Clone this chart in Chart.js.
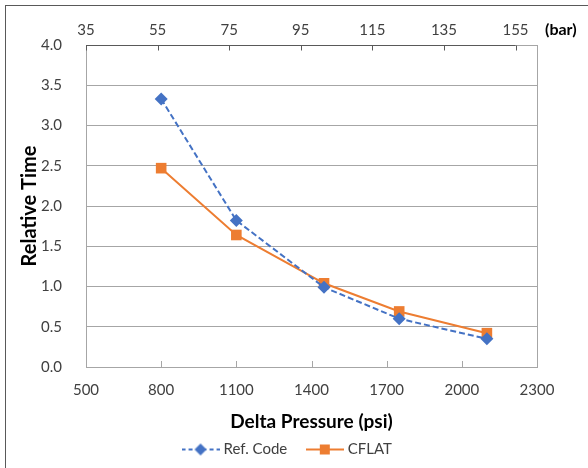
<!DOCTYPE html>
<html>
<head>
<meta charset="utf-8">
<script src="https://cdn.jsdelivr.net/npm/chart.js@4.4.1/dist/chart.umd.min.js"></script>
<style>
  html, body { margin: 0; padding: 0; background: #fff; overflow: hidden; }
  #wrap { position: relative; width: 588px; height: 468px; }
  #frame { position: absolute; left: 5px; top: 5px; width: 700px; height: 600px; border: 1px solid #595959; pointer-events: none; }
</style>
</head>
<body>
<div id="wrap">
  <canvas id="pressureChart" width="588" height="468"></canvas>
  <div id="frame"></div>
</div>
<script>
// values
const pressurePsi = [800, 1100, 1450, 1750, 2100];
const refCode = [3.33, 1.82, 0.99, 0.60, 0.35];
const cflat = [2.47, 1.64, 1.04, 0.69, 0.42];
const barTicks = [35, 55, 75, 95, 115, 135, 155];

const BLUE = '#4472C4';
const ORANGE = '#ED7D31';
const FONT = "Lato, 'Noto Sans', sans-serif";

// legend icon: short line with the marker in the middle, like Excel does it
function makeLegendIcon(color, dash, marker) {
    const c = document.createElement('canvas');
    c.width = 38;
    c.height = 14;
    const g = c.getContext('2d');
    g.strokeStyle = color;
    g.lineWidth = 2;
    g.setLineDash(dash);
    g.beginPath();
    g.moveTo(0, 7);
    g.lineTo(38, 7);
    g.stroke();
    g.fillStyle = color;
    g.beginPath();
    if (marker === 'diamond') {
        g.moveTo(19, 1); g.lineTo(25, 7); g.lineTo(19, 13); g.lineTo(13, 7);
    } else {
        g.rect(14, 2, 10, 10);
    }
    g.closePath();
    g.fill();
    return c;
}

const refIcon = makeLegendIcon(BLUE, [4, 3], 'diamond');
const cflatIcon = makeLegendIcon(ORANGE, [], 'square');

const excelFrame = {
    id: 'excelFrame',
    beforeUpdate(chart) {
        // fixed legend band height so the plot keeps its place
        const legend = chart.legend;
        if (legend && !legend._fixedFit) {
            const fit = legend.fit;
            legend.fit = function () {
                fit.call(this);
                this.height = 46;
            };
            legend._fixedFit = true;
        }
    },
    beforeDatasetsDraw(chart) {
        const { ctx, chartArea } = chart;
        ctx.save();
        ctx.strokeStyle = '#a6a6a6';
        ctx.lineWidth = 1;
        ctx.beginPath();
        ctx.moveTo(Math.round(chartArea.right) + 0.5, chartArea.top);
        ctx.lineTo(Math.round(chartArea.right) + 0.5, chartArea.bottom);
        ctx.stroke();
        ctx.restore();
    },
    afterDraw(chart) {
        const { ctx, chartArea, scales } = chart;
        ctx.save();
        ctx.lineWidth = 1;

        // bottom axis: tick marks pointing into the plot
        ctx.strokeStyle = '#a6a6a6';
        ctx.beginPath();
        scales.x.ticks.forEach(t => {
            const px = Math.round(scales.x.getPixelForValue(t.value)) + 0.5;
            ctx.moveTo(px, chartArea.bottom);
            ctx.lineTo(px, chartArea.bottom - 6);
        });
        ctx.stroke();

        // top (bar) axis line and its ticks
        const top = Math.round(chartArea.top) + 0.5;
        const x0 = scales.x2.getPixelForValue(barTicks[0]);
        const x1 = scales.x2.getPixelForValue(barTicks[barTicks.length - 1]);
        ctx.strokeStyle = '#595959';
        ctx.beginPath();
        ctx.moveTo(x0, top);
        ctx.lineTo(x1, top);
        barTicks.forEach(v => {
            const px = Math.round(scales.x2.getPixelForValue(v)) + 0.5;
            ctx.moveTo(px, top);
            ctx.lineTo(px, top + 5);
        });
        ctx.stroke();

        // unit label for the top axis
        ctx.fillStyle = '#000';
        ctx.font = "bold 16px " + FONT;
        ctx.textAlign = 'left';
        ctx.textBaseline = 'middle';
        ctx.fillText('(bar)', chartArea.right + 8, 30);
        ctx.restore();
    }
};

new Chart(document.getElementById('pressureChart'), {
    type: 'line',
    data: {
        datasets: [{
            label: 'Ref. Code',
            data: pressurePsi.map((p, i) => ({ x: p, y: refCode[i] })),
            borderColor: BLUE,
            backgroundColor: BLUE,
            borderWidth: 2,
            borderDash: [6, 3],
            pointStyle: 'rectRot',
            pointRadius: 6.5,
            pointBorderWidth: 0,
            tension: 0
        }, {
            label: 'CFLAT',
            data: pressurePsi.map((p, i) => ({ x: p, y: cflat[i] })),
            borderColor: ORANGE,
            backgroundColor: ORANGE,
            borderWidth: 2,
            pointStyle: 'rect',
            pointRadius: 7.5,
            pointBorderWidth: 0,
            tension: 0
        }]
    },
    options: {
        responsive: false,
        animation: false,
        layout: { padding: { left: 6, right: 17, top: 6, bottom: 2 } },
        plugins: {
            tooltip: { enabled: false },
            legend: {
                position: 'bottom',
                labels: {
                    usePointStyle: true,
                    pointStyleWidth: 31,
                    padding: 22,
                    color: '#404040',
                    font: { family: FONT, size: 15 },
                    generateLabels: chart => chart.data.datasets.map((ds, i) => ({
                        text: ds.label,
                        pointStyle: i === 0 ? refIcon : cflatIcon,
                        fontColor: '#404040',
                        lineWidth: 0,
                        datasetIndex: i
                    }))
                }
            }
        },
        scales: {
            x: {
                type: 'linear',
                position: 'bottom',
                min: 500,
                max: 2300,
                afterFit: s => { s.height = 53; },
                ticks: {
                    stepSize: 300,
                    autoSkip: false,
                    maxRotation: 0,
                    padding: 14,
                    color: '#404040',
                    font: { family: FONT, size: 15 },
                    callback: v => String(v)
                },
                grid: { display: false, drawTicks: false },
                border: { display: true, color: '#a6a6a6' },
                title: {
                    display: true,
                    text: 'Delta Pressure (psi)',
                    color: '#000',
                    font: { family: FONT, size: 19, weight: 'bold' },
                    padding: { top: 0, bottom: -13 }
                }
            },
            x2: {
                type: 'linear',
                position: 'top',
                min: 35,
                max: 161,
                afterFit: s => { s.height = 39; },
                afterBuildTicks: s => { s.ticks = barTicks.map(v => ({ value: v })); },
                ticks: {
                    autoSkip: false,
                    maxRotation: 0,
                    padding: 6,
                    color: '#404040',
                    font: { family: FONT, size: 15 },
                    callback: v => String(v)
                },
                grid: { display: false, drawTicks: false },
                border: { display: false }
            },
            y: {
                min: 0,
                max: 4,
                afterFit: s => { s.width = 80; },
                ticks: {
                    stepSize: 0.5,
                    padding: 24,
                    color: '#404040',
                    font: { family: FONT, size: 15 },
                    callback: v => v.toFixed(1)
                },
                grid: { color: '#a6a6a6', drawTicks: false },
                border: { display: true, color: '#a6a6a6' },
                title: {
                    display: true,
                    text: 'Relative Time',
                    color: '#000',
                    font: { family: FONT, size: 20, weight: 'bold' },
                    padding: { top: 12, bottom: 0 }
                }
            },
            y2: {
                position: 'right',
                min: 0,
                max: 4,
                afterFit: s => { s.width = 34; },
                ticks: { display: false },
                grid: { display: false, drawTicks: false },
                border: { display: false }
            }
        }
    },
    plugins: [excelFrame]
});
</script>
</body>
</html>
